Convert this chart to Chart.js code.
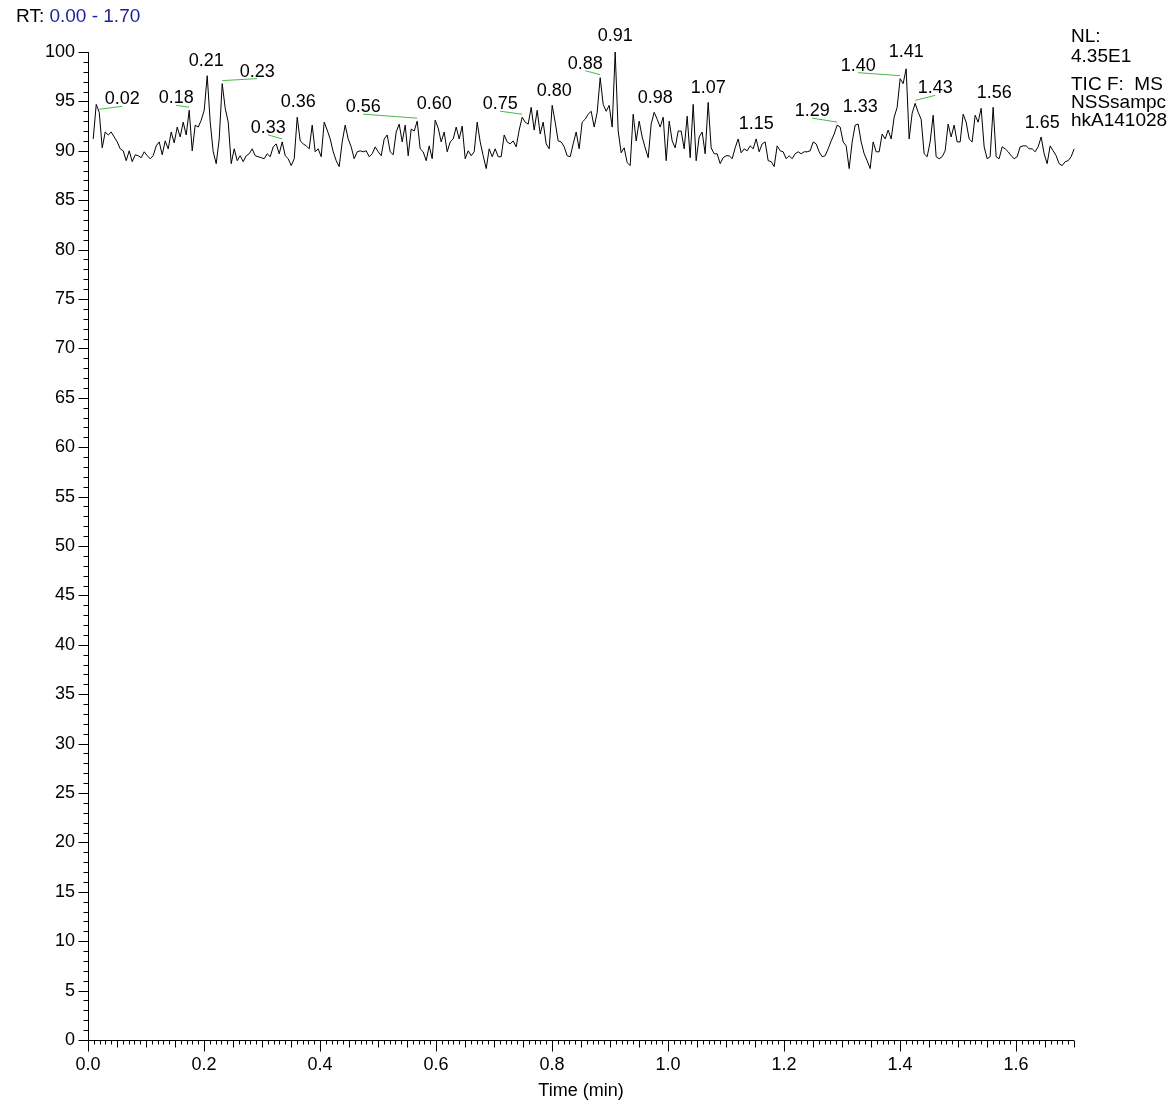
<!DOCTYPE html>
<html>
<head>
<meta charset="utf-8">
<title>TIC chromatogram</title>
<script src="https://cdn.jsdelivr.net/npm/chart.js@4.4.1/dist/chart.umd.min.js"></script>
<style>
  html, body { margin: 0; padding: 0; background: #fff; }
  #chart { display: block; }
</style>
</head>
<body>
<canvas id="chart" width="1176" height="1101"></canvas>
<script>
// relative abundance (%) for each scan
const intensity = [
  91.2, 94.7, 93.9, 90.3, 91.9, 91.6, 91.9, 91.4, 90.9, 90.2,
  90.0, 89.0, 90.0, 88.9, 89.6, 89.5, 89.3, 89.9, 89.5, 89.2,
  89.5, 90.5, 90.9, 89.6, 91.0, 90.2, 91.9, 90.8, 92.4, 91.4,
  92.9, 91.6, 94.1, 90.0, 92.6, 92.4, 93.1, 94.1, 97.6, 92.9,
  89.9, 88.7, 91.2, 96.8, 94.3, 92.9, 88.7, 90.2, 89.0, 89.5,
  88.9, 89.5, 89.7, 90.2, 89.5, 89.4, 89.3, 89.2, 89.7, 89.4,
  90.4, 90.7, 89.7, 90.9, 89.5, 89.2, 88.5, 89.2, 93.4, 91.0,
  90.7, 90.5, 90.2, 92.6, 89.9, 90.2, 89.4, 92.9, 92.1, 91.2,
  89.9, 89.0, 88.4, 90.9, 92.6, 91.2, 90.4, 89.2, 89.9, 90.0,
  89.9, 90.0, 89.4, 89.7, 90.4, 89.9, 89.5, 91.2, 91.6, 89.9,
  89.6, 91.9, 92.7, 90.9, 92.6, 89.5, 92.2, 92.0, 93.0, 90.2,
  89.9, 89.0, 90.5, 89.2, 93.1, 92.3, 90.9, 91.9, 89.9, 90.9,
  91.2, 92.4, 91.2, 92.5, 89.2, 90.0, 89.5, 89.9, 92.9, 90.9,
  89.5, 88.2, 90.2, 89.4, 90.2, 89.4, 89.4, 91.6, 90.9, 90.7,
  91.0, 90.4, 92.1, 93.4, 92.9, 92.7, 94.4, 92.1, 94.1, 91.7,
  92.9, 90.7, 90.2, 94.6, 92.9, 91.0, 90.9, 90.4, 89.5, 89.4,
  90.7, 91.9, 90.2, 92.9, 93.2, 93.7, 94.0, 92.4, 93.9, 97.4,
  94.7, 94.0, 94.6, 92.4, 100.0, 92.0, 89.8, 90.3, 88.8, 88.5,
  93.7, 91.0, 93.0, 91.4, 90.3, 89.3, 92.7, 93.9, 93.2, 92.4,
  93.4, 89.0, 93.0, 91.0, 90.3, 92.0, 92.0, 90.2, 93.5, 89.3,
  94.7, 89.0, 91.4, 91.9, 89.7, 94.9, 90.3, 89.7, 89.7, 88.7,
  89.3, 89.5, 89.5, 89.2, 90.3, 91.2, 89.8, 90.2, 90.0, 90.5,
  90.2, 91.2, 89.9, 90.7, 90.9, 89.0, 88.9, 88.4, 90.5, 90.0,
  89.9, 89.2, 89.5, 89.2, 89.7, 89.9, 89.7, 89.9, 89.9, 90.0,
  90.9, 90.7, 89.9, 89.4, 89.5, 90.2, 91.0, 91.7, 92.6, 92.4,
  90.9, 90.5, 88.2, 90.9, 92.6, 92.7, 90.9, 89.7, 89.0, 88.2,
  90.9, 89.9, 89.9, 91.7, 91.2, 92.1, 91.2, 93.4, 94.4, 97.3,
  96.8, 98.3, 91.2, 93.8, 94.8, 93.9, 93.2, 89.7, 89.4, 90.9,
  93.6, 89.4, 89.2, 89.4, 90.0, 92.7, 91.4, 92.6, 90.9, 90.9,
  93.7, 92.9, 91.2, 90.9, 93.6, 92.9, 94.3, 90.4, 89.2, 89.4,
  94.4, 89.4, 89.2, 90.4, 90.2, 89.9, 89.5, 89.2, 89.4, 90.4,
  90.5, 90.5, 90.2, 90.2, 89.9, 90.4, 91.4, 89.7, 88.7, 90.5,
  90.0, 89.5, 88.7, 88.5, 88.9, 89.0, 89.4, 90.2
];
const scanStart = 0.009;    // min, first scan
const scanStep = 0.005172;  // min between scans

const xTickLabels = ['0.0', '0.2', '0.4', '0.6', '0.8', '1.0', '1.2', '1.4', '1.6'];
const yTickLabels = ['0', '5', '10', '15', '20', '25', '30', '35', '40', '45', '50',
  '55', '60', '65', '70', '75', '80', '85', '90', '95', '100'];

// labelled apexes: text and the scan it belongs to
const peakLabels = ['0.02', '0.18', '0.21', '0.23', '0.33', '0.36', '0.56', '0.60', '0.75', '0.80', '0.88',
  '0.91', '0.98', '1.07', '1.15', '1.29', '1.33', '1.40', '1.41', '1.43', '1.56', '1.65'];
const peakScans = [2, 32, 38, 43, 63, 68, 108, 114, 143, 153, 169,
  174, 187, 205, 221, 248, 255, 269, 271, 274, 300, 316];

const rangeText = '0.00 - 1.70';
const infoLines = ['NL:', '4.35E1', 'TIC F:  MS', 'NSSsampc', 'hkA141028'];

// ---- layout ----
const FAMILY = 'Arial, "Liberation Sans", sans-serif';
const FONT = '18px ' + FAMILY;
// label offset from its apex in px [dx, dy, draw leader line]
const labelOffsets = [
  [23, -13, 1], [-13, -12, 1], [-1, -15, 0], [35, -12, 1], [-14, -14, 1], [1, -15, 0],
  [-54, -14, 1], [-1, -16, 0], [-22, -13, 1], [2, -14, 0], [-15, -14, 1], [0, -16, 0],
  [1, -14, 0], [0, -14, 0], [0, -15, 0], [-25, -14, 1], [2, -17, 0], [-42, -13, 1],
  [0, -17, 0], [20, -15, 1], [1, -14, 0], [1, -14, 0]
];

const scanTime = k => scanStart + k * scanStep;

const xcaliburDecor = {
  id: 'xcaliburDecor',
  afterDatasetsDraw(chart) {
    const {ctx, chartArea: area, scales: {x, y}} = chart;
    ctx.save();
    ctx.strokeStyle = '#000';
    ctx.lineWidth = 1;
    const ax = Math.round(area.left) + 0.5;
    const ay = Math.round(area.bottom) + 0.5;
    ctx.beginPath();
    ctx.moveTo(ax, Math.round(area.top));
    ctx.lineTo(ax, ay);
    ctx.lineTo(Math.round(area.right), ay);
    // y minor ticks each 1 %, major each 5 %
    for (let v = 0; v <= 100; v++) {
      const py = Math.round(y.getPixelForValue(v)) + 0.5;
      const len = v % 5 === 0 ? 10 : 5;
      ctx.moveTo(ax - len, py);
      ctx.lineTo(ax, py);
    }
    // x minor ticks each 0.01 min
    for (let i = 0; i <= 170; i++) {
      const px = Math.round(x.getPixelForValue(i / 100)) + 0.5;
      const len = i % 20 === 0 ? 11 : (i % 5 === 0 ? 7 : 4);
      ctx.moveTo(px, ay);
      ctx.lineTo(px, ay + len);
    }
    ctx.stroke();

    // peak labels
    ctx.font = FONT;
    ctx.textAlign = 'center';
    ctx.textBaseline = 'middle';
    peakLabels.forEach((txt, i) => {
      const k = peakScans[i];
      const px = x.getPixelForValue(scanTime(k));
      const py = y.getPixelForValue(intensity[k]);
      const [dx, dy, lead] = labelOffsets[i];
      if (lead) {
        ctx.strokeStyle = '#47b847';
        ctx.beginPath();
        ctx.moveTo(px + dx, py + dy + 7);
        ctx.lineTo(px, py - 3);
        ctx.stroke();
      }
      ctx.fillStyle = '#000';
      ctx.fillText(txt, px + dx, py + dy);
    });

    // axis title
    ctx.fillText('Time (min)', (area.left + area.right) / 2, 1091);

    // header
    ctx.textAlign = 'left';
    ctx.font = '19px ' + FAMILY;
    ctx.fillStyle = '#000';
    ctx.fillText('RT: ', 16, 17);
    const w = ctx.measureText('RT: ').width;
    ctx.fillStyle = '#1e1e9e';
    ctx.fillText(rangeText, 16 + w, 17);

    // info block at right
    ctx.fillStyle = '#000';
    const infoY = [37, 57, 85, 103, 121];
    infoLines.forEach((t, i) => ctx.fillText(t, 1071, infoY[i]));
    ctx.restore();
  }
};

new Chart(document.getElementById('chart'), {
  type: 'line',
  data: {
    datasets: [{
      data: intensity.map((v, k) => ({x: scanTime(k), y: v})),
      borderColor: '#000',
      borderWidth: 1,
      pointRadius: 0,
      tension: 0,
      fill: false,
      clip: 4
    }]
  },
  options: {
    responsive: false,
    animation: false,
    devicePixelRatio: 1,
    layout: {padding: {top: 52, right: 102, bottom: 0, left: 0}},
    plugins: {legend: {display: false}, tooltip: {enabled: false}},
    scales: {
      x: {
        type: 'linear', min: 0, max: 1.7,
        grid: {display: false, drawTicks: false},
        border: {display: false},
        afterBuildTicks: s => { s.ticks = xTickLabels.map(l => ({value: parseFloat(l)})); },
        afterFit: s => { s.height = 61; },
        ticks: {
          padding: 14, color: '#000', autoSkip: false, maxRotation: 0,
          font: {family: FAMILY, size: 18},
          callback: (v, i) => xTickLabels[i]
        }
      },
      y: {
        min: 0, max: 100,
        grid: {display: false, drawTicks: false},
        border: {display: false},
        afterBuildTicks: s => { s.ticks = yTickLabels.map(l => ({value: parseFloat(l)})); },
        afterFit: s => { s.width = 88; },
        ticks: {
          padding: 13, color: '#000', autoSkip: false,
          font: {family: FAMILY, size: 18},
          callback: (v, i) => yTickLabels[i]
        }
      }
    }
  },
  plugins: [xcaliburDecor]
});
</script>
</body>
</html>
